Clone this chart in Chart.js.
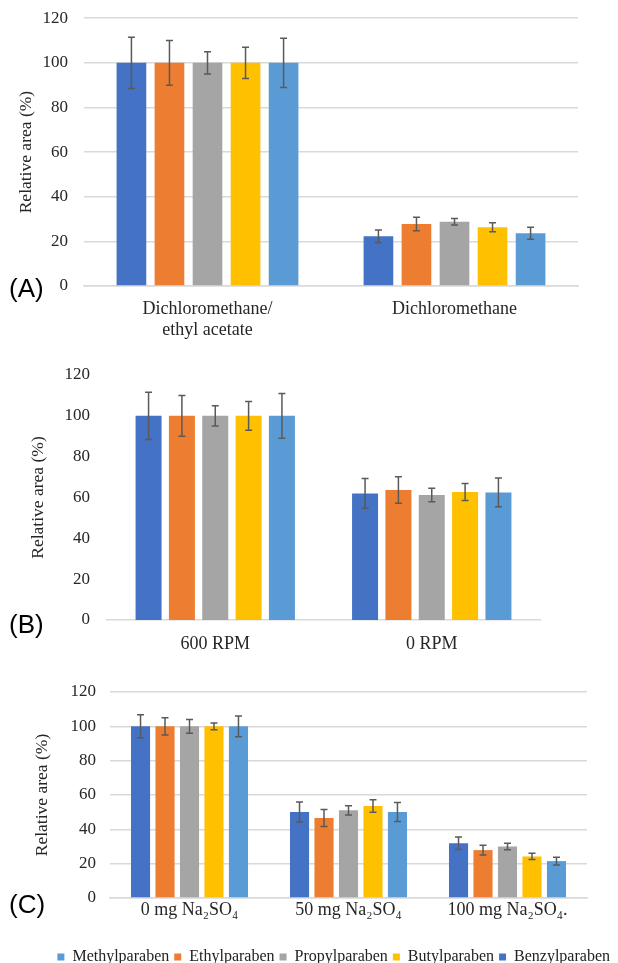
<!DOCTYPE html>
<html>
<head>
<meta charset="utf-8">
<script src="https://cdn.jsdelivr.net/npm/chart.js@4.4.1/dist/chart.umd.min.js"></script>
<style>
  body { margin: 0; background: #fff; width: 618px; height: 963px; position: relative; overflow: hidden; }
  .box { position: absolute; left: 0; width: 618px; }
  .tag { position: absolute; left: 9px; font-family: "Liberation Sans", Arial, sans-serif; font-size: 26px; line-height: 26px; color: #000; }
</style>
</head>
<body>
<div class="box" style="top:-8px;height:348px"><canvas id="chartA"></canvas></div>
<div class="box" style="top:335px;height:330px"><canvas id="chartB"></canvas></div>
<div class="box" style="top:665px;height:310px"><canvas id="chartC"></canvas></div>
<div class="tag" style="top:275px">(A)</div>
<div class="tag" style="top:611px">(B)</div>
<div class="tag" style="top:891px">(C)</div>
<script>
// series in bar order (left to right inside each group)
const seriesNames = ["Benzylparaben", "Ethylparaben", "Propylparaben", "Butylparaben", "Methylparaben"];
const seriesColors = ["#4472C4", "#ED7D31", "#A5A5A5", "#FFC000", "#5B9BD5"];
// legend order as printed under the figure
const legendOrder = ["Methylparaben", "Ethylparaben", "Propylparaben", "Butylparaben", "Benzylparaben"];

const yMax = 120;
const yStep = 20;

// (A) extraction solvent
const labelsA = [["Dichloromethane/", "ethyl acetate"], "Dichloromethane"];
const meanA = [[100, 22.3], [100, 27.8], [100, 28.8], [100, 26.3], [100, 23.6]];
const errA = [[11.5, 2.8], [10, 3], [5, 1.5], [7, 2], [11, 2.7]];

// (B) stirring
const labelsB = ["600 RPM", "0 RPM"];
const meanB = [[100, 62.0], [100, 63.7], [100, 61.2], [100, 62.7], [100, 62.5]];
const errB = [[11.6, 7.3], [10, 6.5], [5, 3.3], [7, 4.2], [11, 7]];

// (C) salt addition
const labelsC = ["0 mg Na\u2082SO\u2084", "50 mg Na\u2082SO\u2084", "100 mg Na\u2082SO\u2084."];
const meanC = [[100, 50.1, 31.9], [100, 46.6, 27.9], [100, 51.1, 30.0], [100, 53.6, 24.2], [100, 50.1, 21.5]];
const errC = [[6.7, 5.8, 3.7], [5, 4.9, 2.9], [4, 2.7, 1.9], [2, 3.7, 1.8], [6, 5.6, 2.3]];

const serif = "'Liberation Serif', 'Times New Roman', serif";
const textColor = "#262626";
const gridColor = "#d9d9d9";

const errorBars = {
    id: "errorBars",
    afterDatasetsDraw(chart) {
        const ctx = chart.ctx;
        const y = chart.scales.y;
        ctx.save();
        ctx.strokeStyle = "#5a5a5a";
        ctx.lineWidth = 1.5;
        chart.data.datasets.forEach((ds, i) => {
            chart.getDatasetMeta(i).data.forEach((bar, j) => {
                const top = y.getPixelForValue(ds.data[j] + ds.err[j]);
                const bot = y.getPixelForValue(ds.data[j] - ds.err[j]);
                const cap = 3.5;
                ctx.beginPath();
                ctx.moveTo(bar.x, top); ctx.lineTo(bar.x, bot);
                ctx.moveTo(bar.x - cap, top); ctx.lineTo(bar.x + cap, top);
                ctx.moveTo(bar.x - cap, bot); ctx.lineTo(bar.x + cap, bot);
                ctx.stroke();
            });
        });
        ctx.restore();
    }
};

function makeChart(id, labels, means, errs, cfg) {
    const datasets = seriesNames.map((name, i) => ({
        label: name,
        data: means[i],
        err: errs[i],
        backgroundColor: seriesColors[i],
        borderWidth: 0,
        categoryPercentage: 0.77,
        barPercentage: 0.78,
    }));

    const scales = {
        x: {
            grid: { display: false },
            border: { display: true, color: gridColor, width: 1.5 },
            ticks: { color: textColor, font: { family: serif, size: 18 }, padding: cfg.xPad, maxRotation: 0 },
            afterFit: (s) => { s.height = cfg.xHeight; },
        },
        y: {
            min: 0,
            max: yMax,
            grid: { display: cfg.grid, color: gridColor, lineWidth: 1.5, drawTicks: false },
            border: { display: false },
            ticks: { stepSize: yStep, color: textColor, font: { family: serif, size: 17 }, padding: cfg.yPad },
            title: { display: true, text: "Relative area (%)", color: textColor, font: { family: serif, size: 17.5 }, padding: { top: cfg.titlePad, bottom: 0 } },
            afterFit: (s) => { s.width = cfg.yWidth; },
        },
    };
    if (cfg.rightGap) {
        scales.yR = {
            position: "right",
            display: true,
            grid: { display: false },
            border: { display: false },
            ticks: { display: false },
            afterFit: (s) => { s.width = cfg.rightGap; },
        };
    }

    return new Chart(document.getElementById(id), {
        type: "bar",
        data: { labels: labels, datasets: datasets },
        options: {
            responsive: true,
            maintainAspectRatio: false,
            animation: false,
            layout: { padding: cfg.padding },
            plugins: {
                tooltip: { enabled: false },
                legend: cfg.legend ? {
                    display: true,
                    position: "bottom",
                    align: "end",
                    labels: {
                        boxWidth: 7,
                        boxHeight: 7,
                        padding: 5,
                        color: "#222",
                        font: { family: serif, size: 16 },
                        sort: (a, b) => legendOrder.indexOf(a.text) - legendOrder.indexOf(b.text),
                    },
                } : { display: false },
            },
            scales: scales,
        },
        plugins: [errorBars],
    });
}

makeChart("chartA", labelsA, meanA, errA, {
    grid: true, yWidth: 84, xHeight: 54, xPad: 4, yPad: 16, titlePad: 16,
    padding: { top: 10, right: 40, left: 0, bottom: 0 },
});
makeChart("chartB", labelsB, meanB, errB, {
    grid: false, yWidth: 107, xHeight: 45, xPad: 5, yPad: 17, titlePad: 28,
    padding: { top: 40, right: 78, left: 0, bottom: 0 },
});
makeChart("chartC", labelsC, meanC, errC, {
    grid: true, yWidth: 110, xHeight: 46, xPad: -7, yPad: 14, titlePad: 32, legend: true, rightGap: 28,
    padding: { top: 27, right: 3, left: 0, bottom: 0 },
});
</script>
</body>
</html>
